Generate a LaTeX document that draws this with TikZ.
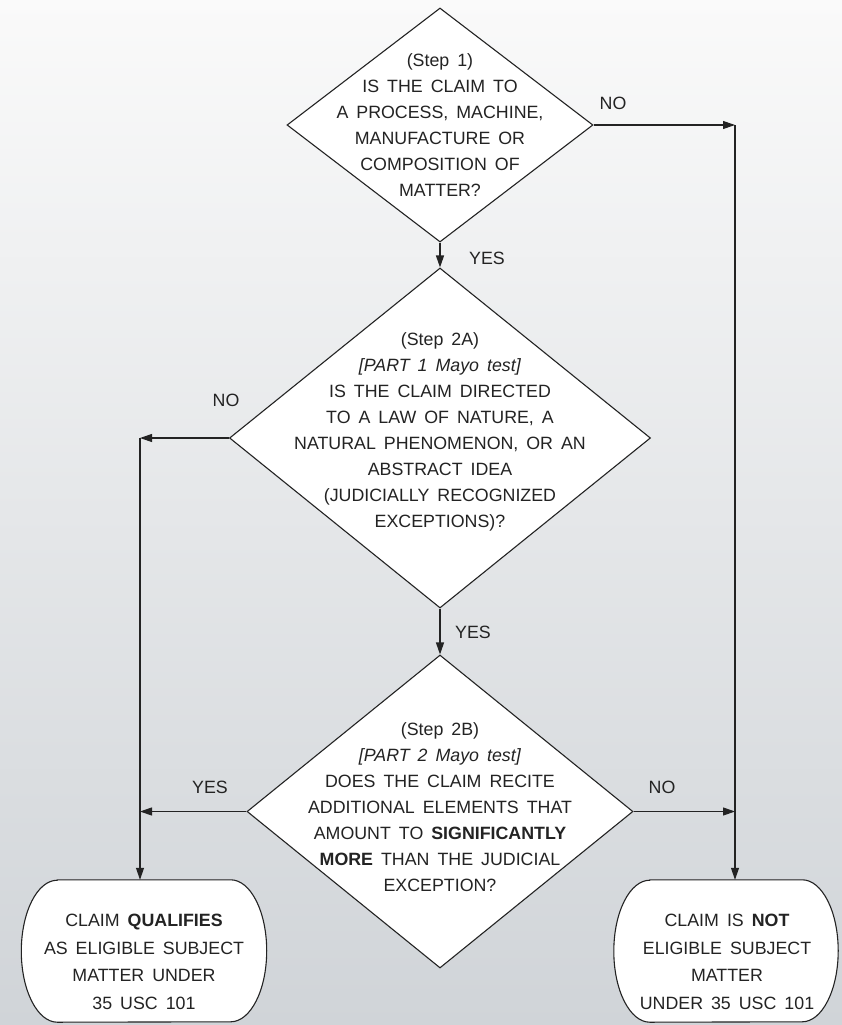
\documentclass[tikz,border=0pt]{standalone}
\usepackage{fontspec}
\setmainfont{Liberation Sans}
\usetikzlibrary{shapes.geometric,arrows.meta,calc}
\pgfdeclarelayer{bg}
\pgfsetlayers{bg,main}
\definecolor{bgtop}{RGB}{250,250,250}
\definecolor{bgbot}{RGB}{208,212,216}
\definecolor{ink}{RGB}{35,35,35}
\newcommand\diatxtfont{\fontsize{17.8}{26}\selectfont\spaceskip=8pt plus 1pt\relax}
\newcommand\boxtxtfont{\fontsize{17.8}{27.7}\selectfont\spaceskip=8pt plus 1pt\relax}
\begin{document}
\begin{tikzpicture}[x=1pt,y=1pt,
  dia/.style={diamond,draw=ink,fill=white,line width=1.1pt,inner sep=0pt},
  txt/.style={align=center,text=ink,font=\diatxtfont},
  btxt/.style={align=center,text=ink,font=\boxtxtfont},
  lbl/.style={text=ink,font=\fontsize{17.8}{20}\selectfont},
  termbox/.style={inner sep=0pt},
  conn/.style={line width=1.1pt,draw=ink},
  arr/.style={conn,-{Triangle[length=12pt,width=8pt]}}]
\useasboundingbox (0,0) rectangle (842,-1025);
\begin{pgfonlayer}{bg}
\shade[top color=bgtop,bottom color=bgbot] (0,0) rectangle (842,-1025);
\end{pgfonlayer}

% decisions
\node[dia,minimum width=306pt,minimum height=234pt] (d1) at (440,-125) {};
\node[dia,minimum width=421pt,minimum height=340pt] (d2) at (440,-438) {};
\node[dia,minimum width=386pt,minimum height=313pt] (d3) at (440,-811.5) {};

\node[txt] (t1) at (440,-125) {(Step 1)\\IS THE CLAIM TO\\A PROCESS, MACHINE,\\MANUFACTURE OR\\COMPOSITION OF\\MATTER?};
\node[txt] (t2) at (440,-432) {(Step 2A)\\\textit{[PART 1 Mayo test]}\\IS THE CLAIM DIRECTED\\TO A LAW OF NATURE, A\\NATURAL PHENOMENON, OR AN\\ABSTRACT IDEA\\(JUDICIALLY RECOGNIZED\\EXCEPTIONS)?};
\node[txt] (t3) at (440,-807) {(Step 2B)\\\textit{[PART 2 Mayo test]}\\DOES THE CLAIM RECITE\\ADDITIONAL ELEMENTS THAT\\AMOUNT TO \textbf{SIGNIFICANTLY}\\\textbf{MORE} THAN THE JUDICIAL\\EXCEPTION?};

% terminals
\node[termbox,minimum width=245pt,minimum height=142pt] (lbox) at (144,-951) {};
\node[termbox,minimum width=224pt,minimum height=142pt] (rbox) at (726,-951) {};
\begin{pgfonlayer}{bg}
\foreach \b in {lbox,rbox}{
  \draw[conn,fill=white]
    ($(\b.north west)+(36,0)$) -- ($(\b.north east)+(-36,0)$)
    arc[start angle=90,end angle=-90,x radius=36pt,y radius=71pt]
    -- ($(\b.south west)+(36,0)$)
    arc[start angle=270,end angle=90,x radius=36pt,y radius=71pt] -- cycle;
}
\end{pgfonlayer}
\node[btxt] (lt) at (144,-962) {CLAIM \textbf{QUALIFIES}\\AS ELIGIBLE SUBJECT\\MATTER UNDER\\35 USC 101};
\node[btxt] (rt) at (727,-962) {CLAIM IS \textbf{NOT}\\ELIGIBLE SUBJECT\\MATTER\\UNDER 35 USC 101};

% connector corners
\coordinate (cr) at (735,0 |- d1.east);
\coordinate (cl) at (140,0 |- d2.west);

\draw[arr] (d1.south) -- (d2.north);
\draw[arr] (d2.south) -- (d3.north);
\draw[arr] (d1.east) -- (cr);
\draw[arr] (cr) -- (cr |- rbox.north);
\draw[arr] (d2.west) -- (cl);
\draw[arr] (cl) -- (cl |- lbox.north);
\draw[arr] (d3.west) -- (d3.west -| cl);
\draw[arr] (d3.east) -- (d3.east -| cr);

% labels
\node[lbl] (n1) at (613,-103) {NO};
\node[lbl] (y1) at (487,-258) {YES};
\node[lbl] (n2) at (226,-400) {NO};
\node[lbl] (y2) at (473,-632) {YES};
\node[lbl] (y3) at (210,-787) {YES};
\node[lbl] (n3) at (662,-787) {NO};
\end{tikzpicture}
\end{document}
